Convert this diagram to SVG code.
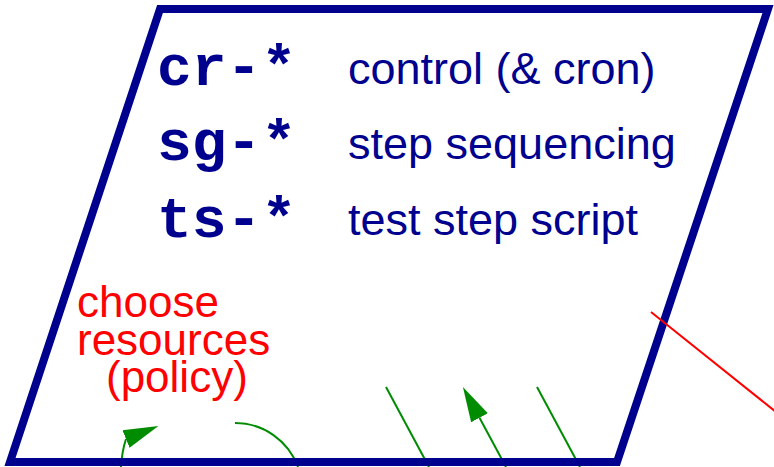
<svg xmlns="http://www.w3.org/2000/svg" width="774" height="467" viewBox="0 0 774 467">
<style>
.mono{font-family:"Liberation Mono","Courier New",monospace;font-weight:bold;font-size:58px;fill:#00008f}
.sans{font-family:"Liberation Sans",Arial,sans-serif;font-size:45px;fill:#00008f}
.red{font-family:"Liberation Sans",Arial,sans-serif;font-size:44px;fill:#ff0000}
.g{fill:none;stroke:#008c00;stroke-width:2}
.r{fill:none;stroke:#ff0000;stroke-width:2}
.frame{fill:#ffffff;stroke:#00008f;stroke-width:8;stroke-linejoin:miter}
</style>
<defs>
<marker id="ah" markerUnits="userSpaceOnUse" markerWidth="40" markerHeight="24" refX="0" refY="10" orient="auto" viewBox="0 0 40 20">
<path d="M0,0.5 L35,10 L0,19.5 z" fill="#008c00"/>
</marker>
<marker id="ah2" markerUnits="userSpaceOnUse" markerWidth="40" markerHeight="24" refX="0" refY="10" orient="-22" viewBox="0 0 40 20">
<path d="M0,0.5 L35,10 L0,19.5 z" fill="#008c00"/>
</marker>
</defs>
<rect width="774" height="467" fill="#ffffff"/>
<g id="frame">
<polygon class="frame" points="160,9 768,9 617,462 10,462"/>
</g>
<g id="connectors">
<path class="g" d="M121,467 Q122,451 126,439" marker-end="url(#ah2)"/>
<path class="g" d="M235,423 A67,67 0 0 1 298,467"/>
<line class="g" x1="386" y1="387" x2="429" y2="467"/>
<line class="g" x1="506" y1="467" x2="479.5" y2="417.8" marker-end="url(#ah)"/>
<line class="g" x1="537" y1="387" x2="580" y2="467"/>
</g>
<g id="frame-bottom">
<line x1="10" y1="462" x2="617" y2="462" stroke="#00008f" stroke-width="8"/>
</g>
<g id="red-line">
<line class="r" x1="651" y1="312" x2="776" y2="412"/>
</g>
<g id="legend">
<text class="mono" x="157" y="85">cr-*</text>
<text class="sans" x="348" y="84">control (&amp; cron)</text>
<text class="mono" x="157" y="160">sg-*</text>
<text class="sans" x="348" y="159">step sequencing</text>
<text class="mono" x="157" y="237">ts-*</text>
<text class="sans" x="348" y="235">test step script</text>
</g>
<g id="policy">
<text class="red" x="77" y="317">choose</text>
<text class="red" x="77" y="355">resources</text>
<text class="red" x="106" y="392">(policy)</text>
</g>
</svg>
